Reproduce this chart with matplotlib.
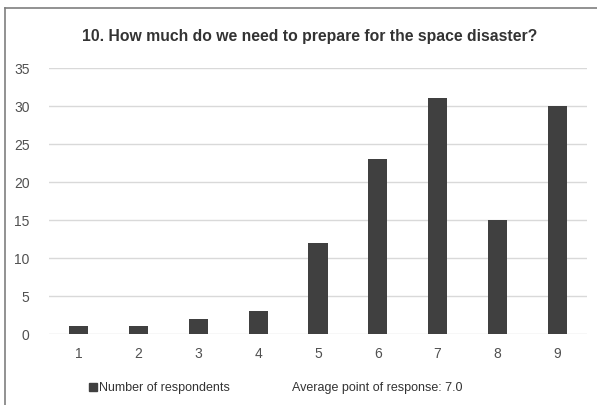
import matplotlib
matplotlib.use("Agg")
import matplotlib.pyplot as plt
from matplotlib.patches import Rectangle
from matplotlib.lines import Line2D

scores = [1, 2, 3, 4, 5, 6, 7, 8, 9]
respondents = [1, 1, 2, 3, 12, 23, 31, 15, 30]
y_ticks = [0, 5, 10, 15, 20, 25, 30, 35]
title = "10. How much do we need to prepare for the space disaster?"
series_label = "Number of respondents"
average_label = "Average point of response: 7.0"

plt.rcParams['font.family'] = ['Liberation Sans', 'DejaVu Sans']
text_col = "#505050"
bar_col = "#404040"

W, H = 597, 406
fig = plt.figure(figsize=(W / 100, H / 100), dpi=100)

ax = fig.add_axes([49 / W, 1 - 335 / H, (587 - 49) / W, (335 - 69) / H])
ax.bar(range(len(scores)), respondents, width=0.32, color=bar_col, zorder=3)
ax.set_xlim(-0.5, len(scores) - 0.5)
ax.set_ylim(0, 35)
ax.set_yticks(y_ticks)
ax.set_xticks(range(len(scores)))
ax.set_xticklabels([str(s) for s in scores])
ax.yaxis.grid(True, color="#d9d9d9", linewidth=1)
ax.set_axisbelow(True)
for s in ax.spines.values():
    s.set_visible(False)
ax.tick_params(length=0, colors=text_col, labelsize=10)
ax.tick_params(axis='y', pad=14)
ax.tick_params(axis='x', pad=9)

fig.text(310 / W, 1 - 37 / H, title, ha="center", va="center",
         fontsize=11.3, fontweight="bold", color="#333333")

# legend row
fig.patches.append(Rectangle((89 / W, 1 - 392 / H), 8 / W, 8 / H,
                             transform=fig.transFigure, color=bar_col))
fig.text(99 / W, 1 - 388 / H, series_label, ha="left", va="center",
         fontsize=9, color="#333333")
fig.text(292 / W, 1 - 388 / H, average_label, ha="left", va="center",
         fontsize=9, color="#333333")

# outer chart frame
fig.add_artist(Line2D([5 / W, 5 / W], [0, 1 - 9 / H], transform=fig.transFigure,
                      color="#7f7f7f", linewidth=1.2))
fig.add_artist(Line2D([5 / W, 1], [1 - 9 / H, 1 - 9 / H], transform=fig.transFigure,
                      color="#7f7f7f", linewidth=1.2))

fig.savefig("out.png", dpi=100, facecolor="white")
